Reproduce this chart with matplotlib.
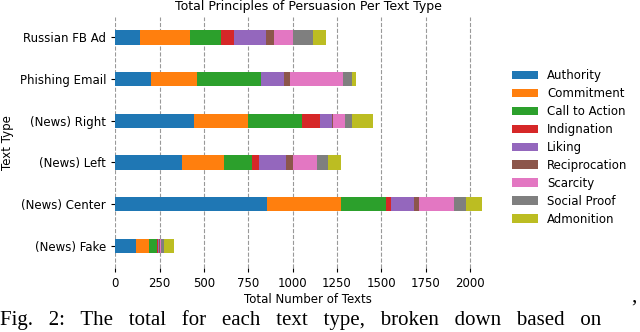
import matplotlib.pyplot as plt
import numpy as np

text_types = ["(News) Fake", "(News) Center", "(News) Left", "(News) Right",
              "Phishing Email", "Russian FB Ad"]
principles = ["Authority", "Commitment", "Call to Action", "Indignation", "Liking",
              "Reciprocation", "Scarcity", "Social Proof", "Admonition"]

# counts per principle, same order as text_types
authority = [117, 854, 378, 444, 203, 137]
commitment = [75, 421, 237, 302, 256, 282]
call_to_action = [42, 253, 156, 309, 364, 175]
indignation = [8, 25, 41, 97, 0, 77]
liking = [6, 133, 149, 68, 126, 179]
reciprocation = [3, 27, 41, 5, 34, 43]
scarcity = [8, 195, 135, 68, 299, 107]
social_proof = [16, 68, 61, 39, 51, 117]
admonition = [55, 94, 77, 121, 22, 69]

series = [authority, commitment, call_to_action, indignation, liking,
          reciprocation, scarcity, social_proof, admonition]
colors = ["#1f77b4", "#ff7f0e", "#2ca02c", "#d62728", "#9467bd",
          "#8c564b", "#e377c2", "#7f7f7f", "#bcbd22"]

plt.rcParams['font.family'] = 'DejaVu Sans'
fig = plt.figure(figsize=(6.4, 3.32), dpi=100)
ax = fig.add_axes([0.180, 0.193, 0.603, 0.757])

y = np.arange(len(text_types))
left = np.zeros(len(text_types))
for name, vals, c in zip(principles, series, colors):
    ax.barh(y, vals, height=0.35, left=left, color=c, label=name, zorder=3)
    left += np.array(vals)

ax.set_yticks(y)
ax.set_yticklabels(text_types, fontsize=8.5)
ax.set_ylim(-0.53, 5.5)
ax.set_xlim(0, 2175)
ax.set_xticks([0, 250, 500, 750, 1000, 1250, 1500, 1750, 2000])
ax.tick_params(axis='x', labelsize=8.5, length=3)
ax.tick_params(axis='y', length=3)
for s in ax.spines.values():
    s.set_visible(False)
ax.grid(axis='x', linestyle='--', color='#999999', linewidth=0.8, zorder=0)

ax.set_title("Total Principles of Persuasion Per Text Type", fontsize=9, pad=5)
ax.set_xlabel("Total Number of Texts", fontsize=8.5, labelpad=2)
ax.set_ylabel("Text Type", fontsize=8.5)

ax.legend(loc='center left', bbox_to_anchor=(1.0, 0.48), frameon=False,
          fontsize=8.5, handlelength=2.2, labelspacing=0.42)

# caption below the figure, spread out like justified text
caption = "   ".join("Fig. 2: The total for each text type, broken down based on".split(" "))
fig.text(0.0, 0.006, caption, family='Liberation Serif', fontsize=15,
         ha='left', va='bottom')
fig.text(0.985, 0.098, "\u2019", family='Liberation Serif', fontsize=15,
         ha='left', va='top')

fig.savefig("out.png", dpi=100)
